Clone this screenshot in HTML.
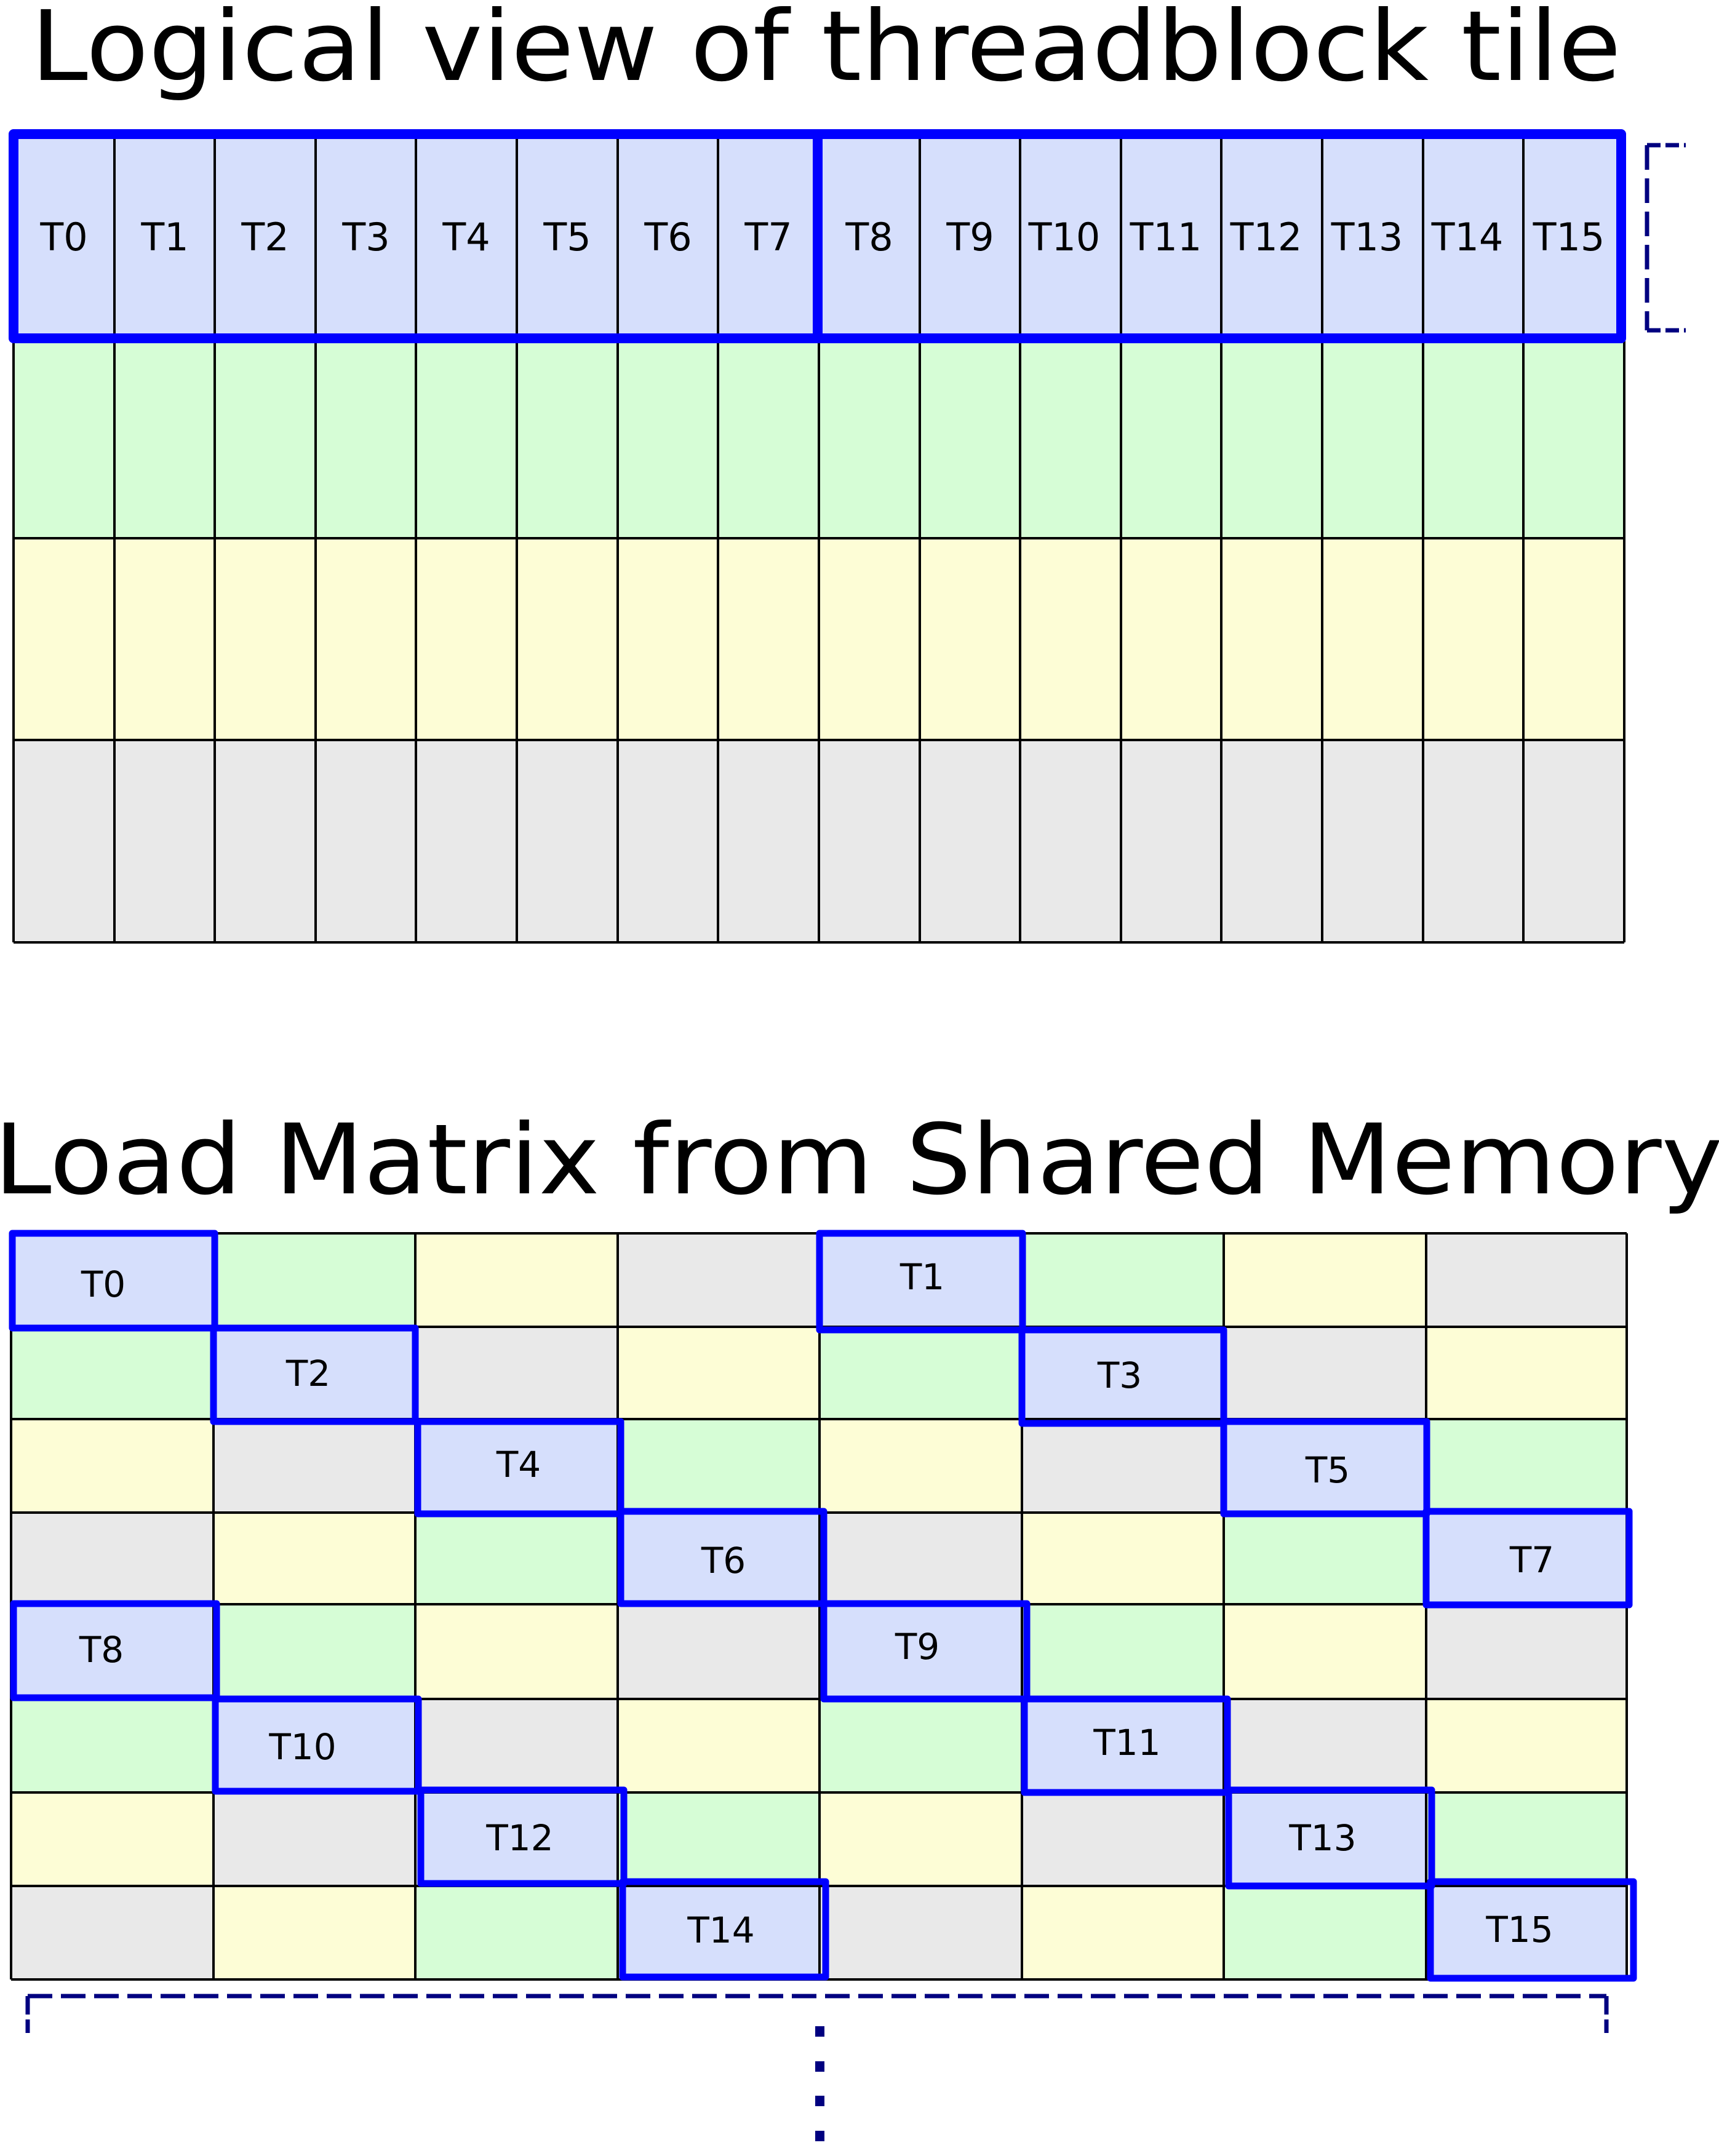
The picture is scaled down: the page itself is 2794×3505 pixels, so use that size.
<!DOCTYPE html>
<html><head><meta charset="utf-8"><style>html,body{margin:0;padding:0;background:#fff}svg{display:block}</style></head>
<body>
<svg xmlns="http://www.w3.org/2000/svg" width="2794" height="3505" viewBox="0 0 2794 3505" font-family="DejaVu Sans, Liberation Sans, sans-serif">
<rect width="2794" height="3505" fill="#fff"/>
<text x="50" y="130" font-size="158" textLength="2585" lengthAdjust="spacingAndGlyphs">Logical view of threadblock tile</text>
<g id="top">
<rect x="22" y="218" width="2618" height="332" fill="#d6dffc"/>
<rect x="22" y="550" width="2618" height="325" fill="#d6fdd6"/>
<rect x="22" y="875" width="2618" height="328" fill="#fdfdd6"/>
<rect x="22" y="1203" width="2618" height="329" fill="#e9e9e9"/>
<g stroke="#000" stroke-width="4">
<line x1="22" y1="875" x2="2640" y2="875"/>
<line x1="22" y1="1203" x2="2640" y2="1203"/>
<line x1="22" y1="1532" x2="2640" y2="1532"/>
<line x1="22" y1="218" x2="22" y2="1532"/><line x1="186" y1="218" x2="186" y2="1532"/><line x1="349" y1="218" x2="349" y2="1532"/><line x1="513" y1="218" x2="513" y2="1532"/><line x1="676" y1="218" x2="676" y2="1532"/><line x1="840" y1="218" x2="840" y2="1532"/><line x1="1004" y1="218" x2="1004" y2="1532"/><line x1="1167" y1="218" x2="1167" y2="1532"/><line x1="1331" y1="218" x2="1331" y2="1532"/><line x1="1495" y1="218" x2="1495" y2="1532"/><line x1="1658" y1="218" x2="1658" y2="1532"/><line x1="1822" y1="218" x2="1822" y2="1532"/><line x1="1985" y1="218" x2="1985" y2="1532"/><line x1="2149" y1="218" x2="2149" y2="1532"/><line x1="2313" y1="218" x2="2313" y2="1532"/><line x1="2476" y1="218" x2="2476" y2="1532"/><line x1="2640" y1="218" x2="2640" y2="1532"/>
</g>
<g fill="none" stroke="#0000ff" stroke-width="16" stroke-linejoin="round">
<rect x="22" y="218" width="2613" height="332"/>
<line x1="1329" y1="218" x2="1329" y2="550"/>
</g>
<g font-size="62" text-anchor="middle">
<text x="104" y="407">T0</text><text x="268" y="407">T1</text><text x="431" y="407">T2</text><text x="595" y="407">T3</text><text x="758" y="407">T4</text><text x="922" y="407">T5</text><text x="1086" y="407">T6</text><text x="1249" y="407">T7</text><text x="1413" y="407">T8</text><text x="1577" y="407">T9</text><text x="1730" y="407">T10</text><text x="1895" y="407">T11</text><text x="2058" y="407">T12</text><text x="2222" y="407">T13</text><text x="2385" y="407">T14</text><text x="2550" y="407">T15</text>
</g>
<g fill="none" stroke="#000080" stroke-width="7">
<line x1="2677" y1="236" x2="2677" y2="537" stroke-dasharray="40,14"/>
<line x1="2677" y1="236" x2="2740" y2="236" stroke-dasharray="22,8"/>
<line x1="2677" y1="537" x2="2740" y2="537" stroke-dasharray="22,8"/>
</g>
</g>
<text x="-10" y="1940" font-size="158" textLength="2810" lengthAdjust="spacingAndGlyphs">Load Matrix from Shared Memory</text>
<g id="bot">
<!-- row 0 -->
<rect x="18" y="2005" width="329" height="152" fill="#d6dffc"/><rect x="347" y="2005" width="328" height="152" fill="#d6fdd6"/><rect x="675" y="2005" width="329" height="152" fill="#fdfdd6"/><rect x="1004" y="2005" width="328" height="152" fill="#e9e9e9"/><rect x="1332" y="2005" width="329" height="152" fill="#d6dffc"/><rect x="1661" y="2005" width="328" height="152" fill="#d6fdd6"/><rect x="1989" y="2005" width="329" height="152" fill="#fdfdd6"/><rect x="2318" y="2005" width="326" height="152" fill="#e9e9e9"/>
<!-- row 1 -->
<rect x="18" y="2157" width="329" height="150" fill="#d6fdd6"/><rect x="347" y="2157" width="328" height="150" fill="#d6dffc"/><rect x="675" y="2157" width="329" height="150" fill="#e9e9e9"/><rect x="1004" y="2157" width="328" height="150" fill="#fdfdd6"/><rect x="1332" y="2157" width="329" height="150" fill="#d6fdd6"/><rect x="1661" y="2157" width="328" height="150" fill="#d6dffc"/><rect x="1989" y="2157" width="329" height="150" fill="#e9e9e9"/><rect x="2318" y="2157" width="326" height="150" fill="#fdfdd6"/>
<!-- row 2 -->
<rect x="18" y="2307" width="329" height="152" fill="#fdfdd6"/><rect x="347" y="2307" width="328" height="152" fill="#e9e9e9"/><rect x="675" y="2307" width="329" height="152" fill="#d6dffc"/><rect x="1004" y="2307" width="328" height="152" fill="#d6fdd6"/><rect x="1332" y="2307" width="329" height="152" fill="#fdfdd6"/><rect x="1661" y="2307" width="328" height="152" fill="#e9e9e9"/><rect x="1989" y="2307" width="329" height="152" fill="#d6dffc"/><rect x="2318" y="2307" width="326" height="152" fill="#d6fdd6"/>
<!-- row 3 -->
<rect x="18" y="2459" width="329" height="149" fill="#e9e9e9"/><rect x="347" y="2459" width="328" height="149" fill="#fdfdd6"/><rect x="675" y="2459" width="329" height="149" fill="#d6fdd6"/><rect x="1004" y="2459" width="328" height="149" fill="#d6dffc"/><rect x="1332" y="2459" width="329" height="149" fill="#e9e9e9"/><rect x="1661" y="2459" width="328" height="149" fill="#fdfdd6"/><rect x="1989" y="2459" width="329" height="149" fill="#d6fdd6"/><rect x="2318" y="2459" width="326" height="149" fill="#d6dffc"/>
<!-- row 4 -->
<rect x="18" y="2608" width="329" height="154" fill="#d6dffc"/><rect x="347" y="2608" width="328" height="154" fill="#d6fdd6"/><rect x="675" y="2608" width="329" height="154" fill="#fdfdd6"/><rect x="1004" y="2608" width="328" height="154" fill="#e9e9e9"/><rect x="1332" y="2608" width="329" height="154" fill="#d6dffc"/><rect x="1661" y="2608" width="328" height="154" fill="#d6fdd6"/><rect x="1989" y="2608" width="329" height="154" fill="#fdfdd6"/><rect x="2318" y="2608" width="326" height="154" fill="#e9e9e9"/>
<!-- row 5 -->
<rect x="18" y="2762" width="329" height="152" fill="#d6fdd6"/><rect x="347" y="2762" width="328" height="152" fill="#d6dffc"/><rect x="675" y="2762" width="329" height="152" fill="#e9e9e9"/><rect x="1004" y="2762" width="328" height="152" fill="#fdfdd6"/><rect x="1332" y="2762" width="329" height="152" fill="#d6fdd6"/><rect x="1661" y="2762" width="328" height="152" fill="#d6dffc"/><rect x="1989" y="2762" width="329" height="152" fill="#e9e9e9"/><rect x="2318" y="2762" width="326" height="152" fill="#fdfdd6"/>
<!-- row 6 -->
<rect x="18" y="2914" width="329" height="152" fill="#fdfdd6"/><rect x="347" y="2914" width="328" height="152" fill="#e9e9e9"/><rect x="675" y="2914" width="329" height="152" fill="#d6dffc"/><rect x="1004" y="2914" width="328" height="152" fill="#d6fdd6"/><rect x="1332" y="2914" width="329" height="152" fill="#fdfdd6"/><rect x="1661" y="2914" width="328" height="152" fill="#e9e9e9"/><rect x="1989" y="2914" width="329" height="152" fill="#d6dffc"/><rect x="2318" y="2914" width="326" height="152" fill="#d6fdd6"/>
<!-- row 7 -->
<rect x="18" y="3066" width="329" height="152" fill="#e9e9e9"/><rect x="347" y="3066" width="328" height="152" fill="#fdfdd6"/><rect x="675" y="3066" width="329" height="152" fill="#d6fdd6"/><rect x="1004" y="3066" width="328" height="152" fill="#d6dffc"/><rect x="1332" y="3066" width="329" height="152" fill="#e9e9e9"/><rect x="1661" y="3066" width="328" height="152" fill="#fdfdd6"/><rect x="1989" y="3066" width="329" height="152" fill="#d6fdd6"/><rect x="2318" y="3066" width="326" height="152" fill="#d6dffc"/>
<g stroke="#000" stroke-width="4">
<line x1="18" y1="2005" x2="2644" y2="2005"/><line x1="18" y1="2157" x2="2644" y2="2157"/><line x1="18" y1="2307" x2="2644" y2="2307"/><line x1="18" y1="2459" x2="2644" y2="2459"/><line x1="18" y1="2608" x2="2644" y2="2608"/><line x1="18" y1="2762" x2="2644" y2="2762"/><line x1="18" y1="2914" x2="2644" y2="2914"/><line x1="18" y1="3066" x2="2644" y2="3066"/><line x1="18" y1="3218" x2="2644" y2="3218"/>
<line x1="18" y1="2005" x2="18" y2="3218"/><line x1="347" y1="2005" x2="347" y2="3218"/><line x1="675" y1="2005" x2="675" y2="3218"/><line x1="1004" y1="2005" x2="1004" y2="3218"/><line x1="1332" y1="2005" x2="1332" y2="3218"/><line x1="1661" y1="2005" x2="1661" y2="3218"/><line x1="1989" y1="2005" x2="1989" y2="3218"/><line x1="2318" y1="2005" x2="2318" y2="3218"/><line x1="2644" y1="2005" x2="2644" y2="3218"/>
</g>
<g fill="none" stroke="#0000ff" stroke-width="11" stroke-linejoin="round">
<rect x="20" y="2005" width="329" height="154"/><rect x="1332" y="2005" width="330" height="157"/>
<rect x="347" y="2159" width="328" height="152"/><rect x="1661" y="2162" width="328" height="152"/>
<rect x="679" y="2311" width="330" height="150"/><rect x="1989" y="2311" width="330" height="150"/>
<rect x="1009" y="2457" width="330" height="150"/><rect x="2318" y="2457" width="330" height="152"/>
<rect x="22" y="2607" width="330" height="153"/><rect x="1339" y="2607" width="330" height="155"/>
<rect x="350" y="2762" width="330" height="150"/><rect x="1665" y="2762" width="330" height="152"/>
<rect x="684" y="2910" width="330" height="152"/><rect x="1997" y="2910" width="330" height="156"/>
<rect x="1012" y="3059" width="330" height="155"/><rect x="2325" y="3059" width="330" height="157"/>
</g>
<g font-size="58" text-anchor="middle">
<text x="168" y="2108">T0</text><text x="1499" y="2096">T1</text>
<text x="501" y="2253">T2</text><text x="1820" y="2256">T3</text>
<text x="843" y="2401">T4</text><text x="2158" y="2410">T5</text>
<text x="1176" y="2557">T6</text><text x="2490" y="2556">T7</text>
<text x="165" y="2702">T8</text><text x="1491" y="2697">T9</text>
<text x="492" y="2860">T10</text><text x="1832" y="2853">T11</text>
<text x="845" y="3008">T12</text><text x="2150" y="3008">T13</text>
<text x="1172" y="3158">T14</text><text x="2470" y="3157">T15</text>
</g>
<g fill="none" stroke="#000080" stroke-width="7">
<line x1="45" y1="3245" x2="2611" y2="3245" stroke-dasharray="40,14"/>
<line x1="45" y1="3245" x2="45" y2="3305" stroke-dasharray="30,8"/>
<line x1="2611" y1="3245" x2="2611" y2="3305" stroke-dasharray="30,8"/>
</g>
<g fill="#000080">
<rect x="1325" y="3294" width="15" height="17"/><rect x="1325" y="3351" width="15" height="17"/><rect x="1325" y="3407" width="15" height="17"/><rect x="1325" y="3464" width="15" height="17"/>
</g>
</g>
</svg>
</body></html>
